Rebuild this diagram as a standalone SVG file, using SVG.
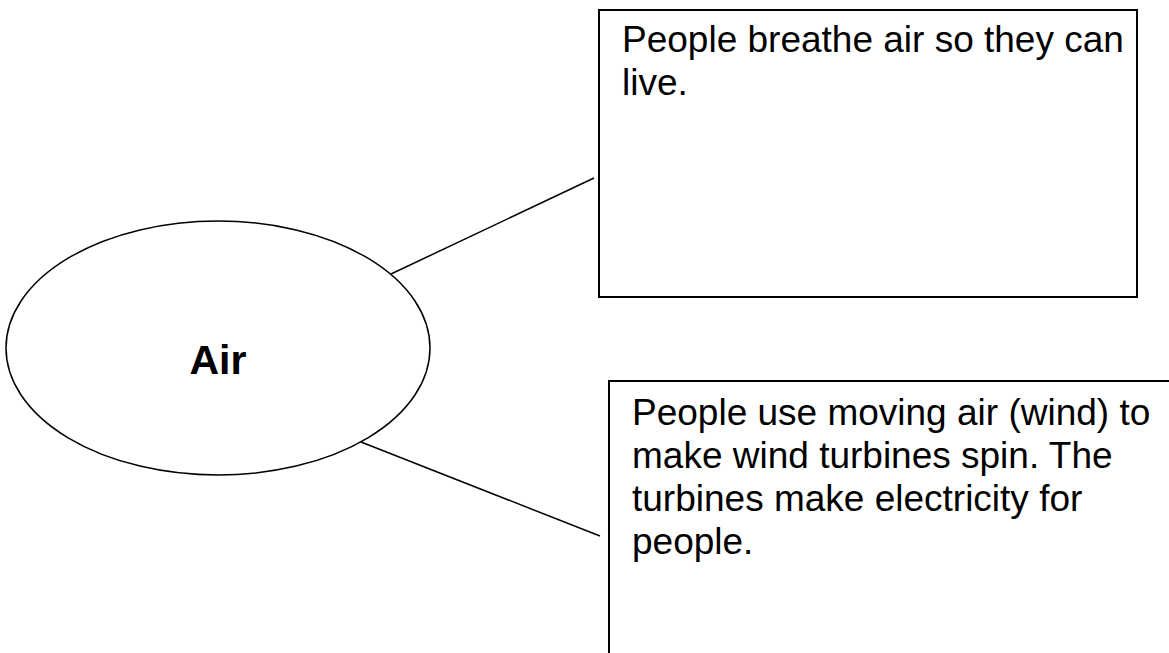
<svg xmlns="http://www.w3.org/2000/svg" width="1169" height="653" viewBox="0 0 1169 653">
<style>
.box{fill:#fff;stroke:#000;stroke-width:2}
.ell{fill:#fff;stroke:#000;stroke-width:1.5}
.t{font-family:"Liberation Sans",Arial,sans-serif;font-size:37px;fill:#000}
.b{font-family:"Liberation Sans",Arial,sans-serif;font-size:41px;font-weight:bold;fill:#000}
.c{stroke:#000;stroke-width:1.5;fill:none}
</style>
<rect width="1169" height="653" fill="#fff"/>
<g id="connectors">
<line class="c" x1="391" y1="274" x2="594" y2="178"/>
<line class="c" x1="361" y1="442" x2="600" y2="536"/>
</g>
<g id="air">
<ellipse class="ell" cx="218" cy="348" rx="212" ry="127"/>
<text class="b" x="218" y="374" text-anchor="middle">Air</text>
</g>
<g id="breathe">
<rect class="box" x="599" y="10" width="538" height="287"/>
<text class="t" x="622" y="52">People breathe air so they can</text>
<text class="t" x="622" y="95">live.</text>
</g>
<g id="wind">
<rect class="box" x="609" y="381" width="580" height="290"/>
<text class="t" x="632" y="425">People use moving air (wind) to</text>
<text class="t" x="632" y="468">make wind turbines spin. The</text>
<text class="t" x="632" y="511">turbines make electricity for</text>
<text class="t" x="632" y="554">people.</text>
</g>
</svg>
